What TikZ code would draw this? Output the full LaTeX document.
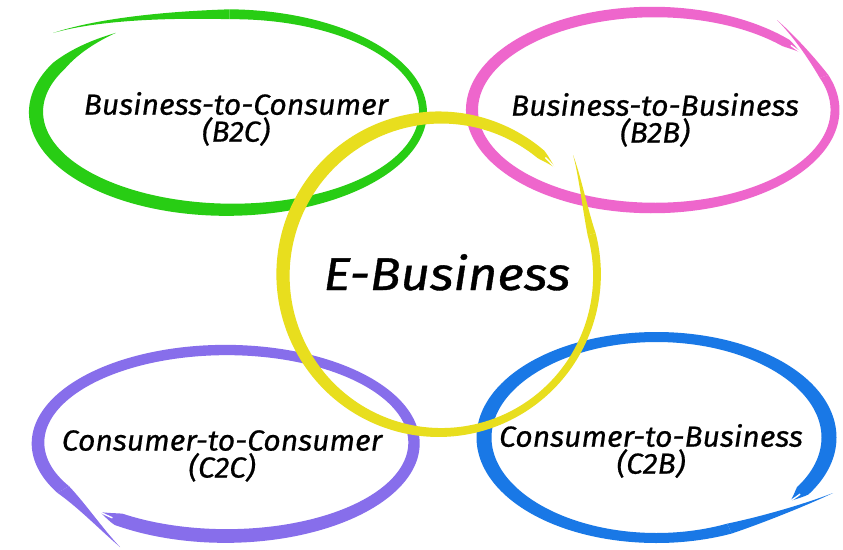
\documentclass[tikz,border=0pt]{standalone}
\usepackage{fontspec}
\usetikzlibrary{calc}
\setmainfont{Fira Sans}
\newfontfamily\handA[FakeStretch=1.04,FakeBold=0.6]{Fira Sans}
\newfontfamily\handB[FakeStretch=1.11,FakeBold=0.8]{Fira Sans}
\definecolor{bgreen}{RGB}{40,205,20}
\definecolor{bpink}{RGB}{238,102,204}
\definecolor{byellow}{RGB}{232,222,30}
\definecolor{bpurple}{RGB}{135,110,235}
\definecolor{bblue}{RGB}{25,120,230}
\newcommand\brushring[1]{%
  \fill[#1] plot[domain=\ba:\bb,samples=240,variable=\t] ({bx(\t,1)},{by(\t,1)})
    -- plot[domain=\bb:\ba,samples=240,variable=\t] ({bx(\t,-1)},{by(\t,-1)}) -- cycle;}
\newcommand\brushfork{%
  \draw[white,line width=1.4pt] plot[domain=\ba-1:\ba+5,samples=8,variable=\t] ({bx(\t,0.15)},{by(\t,0.15)});}
\newcommand\brushtail[4]{%
  \path ({bx(\bb,1)},{by(\bb,1)}) coordinate (tP)
        ({bx(\bb,-1)},{by(\bb,-1)}) coordinate (tQ)
        ({bx(\bb,0)},{by(\bb,0)}) coordinate (tS);
  \fill[#1] (tP) .. controls ($(#2)+0.6*(tP)-0.6*(tS)$) and ($(#3)+0.2*(tP)-0.2*(tS)$) .. (#4)
     .. controls ($(#3)+0.2*(tQ)-0.2*(tS)$) and ($(#2)+0.6*(tQ)-0.6*(tS)$) .. (tQ) -- cycle;}
\newcommand\setbrush[9]{\def\bcx{#1}\def\bcy{#2}\def\brx{#3}\def\bry{#4}\def\ba{#5}\def\bb{#6}\def\bW{#7}\def\bka{#8}\def\bpa{#9}}
\begin{document}
\begin{tikzpicture}[x=1pt,y=-1pt,
  declare function={
    bu(\t)=(\t-\ba)/(\bb-\ba);
    bf(\t)=1+\bka*cos(\t-\bpa)+\bkb*cos(2*\t);
    bw(\t)=\bW*bf(\t)*min(1,bu(\t)/\bta);
    bx(\t,\s)=\bcx+(\brx+\s*0.5*bw(\t))*cos(\t);
    by(\t,\s)=\bcy-(\bry+\s*0.5*bw(\t))*sin(\t);
  },
  lbl/.style={font=\handA\fontsize{29}{27}\selectfont\itshape, align=center, inner sep=0pt},
  big/.style={font=\handB\fontsize{46}{46}\selectfont\itshape, inner sep=0pt}]
\fill[white] (0,0) rectangle (843,549);
\useasboundingbox (0,0) rectangle (843,549);
% green ring
\def\bta{0.08}\def\bkb{0}
\setbrush{229.5}{112}{193.5}{97.75}{126}{450}{11}{0.3}{200}
\brushring{bgreen}
\brushtail{bgreen}{160,14.5}{95,20}{53,33}
% pink ring
\def\bta{0.02}\def\bkb{0}
\setbrush{653.5}{110}{181.5}{98}{36}{380}{10.5}{0.15}{180}
\brushring{bpink}
\brushfork
\brushtail{bpink}{810,55.8}{793,35}{777,20}
% purple ring
\def\bta{0.02}\def\bkb{0}
\setbrush{226}{443}{188}{93}{228}{570}{12}{0.15}{250}
\brushring{bpurple}
\brushfork
\brushtail{bpurple}{82.2,505.8}{102,530}{120,547}
% blue ring
\def\bta{0.02}\def\bkb{0.2}
\setbrush{656.5}{437.5}{172.5}{100.5}{-39}{295}{12.5}{0}{0}
\brushring{bblue}
\brushfork
\brushtail{bblue}{763.2,519.4}{805,505}{833,493}
% yellow ring
\def\bta{0.02}\def\bkb{0}
\setbrush{440}{275}{157}{157.5}{43}{375}{10.5}{0.3}{150}
\brushring{byellow}
\brushfork
\brushtail{byellow}{585.2,210}{579,172}{573,155}
% texts
\node[lbl] (b2c) at (236,119) {Business-to-Consumer\\(B2C)};
\node[lbl] (b2b) at (655,120) {Business-to-Business\\(B2B)};
\node[lbl] (c2c) at (222,456) {Consumer-to-Consumer\\(C2C)};
\node[lbl] (c2b) at (651,451) {Consumer-to-Business\\(C2B)};
\node[big, anchor=base] (eb) at (447,290) {E-Business};
\end{tikzpicture}
\end{document}
